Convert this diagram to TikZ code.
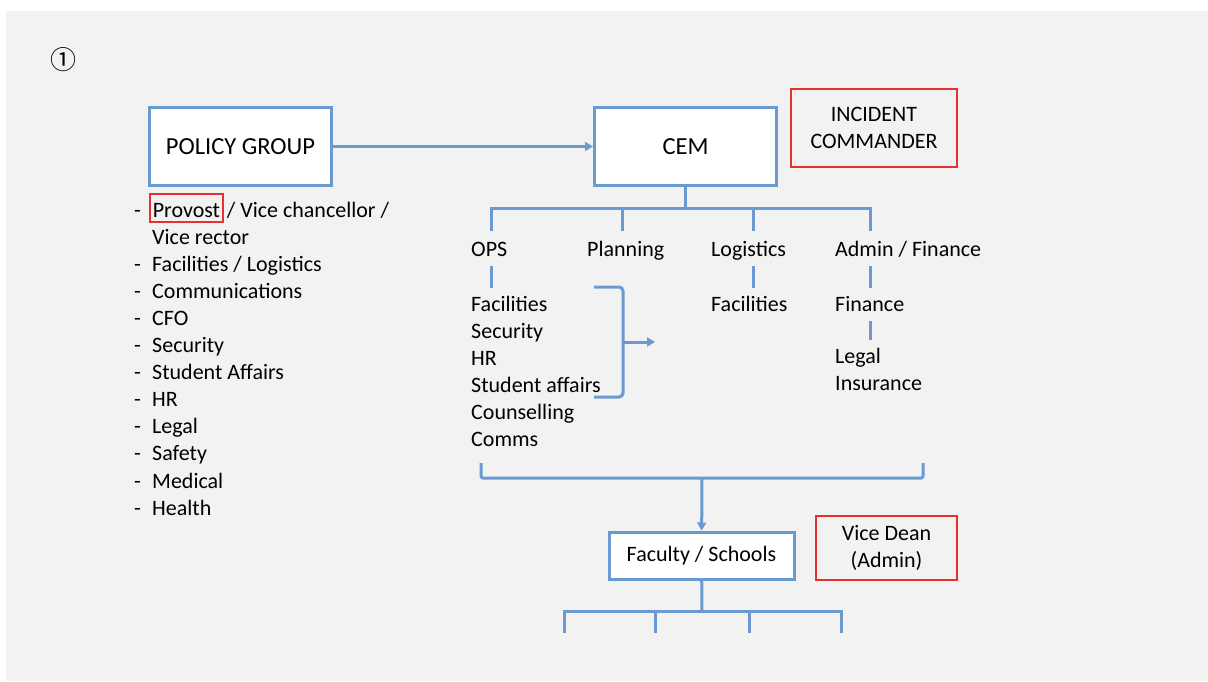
\documentclass[tikz,border=0pt]{standalone}
\usepackage{fontspec}
\setmainfont{Carlito}
\newfontfamily\symbolfont{Noto Sans CJK JP}
\usetikzlibrary{arrows.meta,positioning}
\definecolor{chartblue}{HTML}{6A9AD0}
\definecolor{flagred}{HTML}{E8312F}
\definecolor{slidegray}{HTML}{F2F2F2}

\begin{document}
\begin{tikzpicture}[x = 1pt, y = -1pt,
    every node/.style = {font = \fontsize{22}{27}\selectfont, inner sep = 0pt},
    label text/.style = {text height = 16pt, text depth = 5pt, anchor = base west},
    unit box/.style = {draw = chartblue, line width = 3pt, fill = white, align = center},
    flag box/.style = {draw = flagred, line width = 2pt, align = center},
    link/.style = {draw = chartblue, line width = 3pt},
    stem/.style = {link, shorten <= 5pt, shorten >= 7pt},
    pointer/.style = {link, -{Triangle[length = 8pt, width = 9pt]}}]
    \useasboundingbox (0, 0) rectangle (1208, 681);
    \fill[slidegray] (6, 11) rectangle (1208, 681);
    \node[font = \fontsize{26}{26}\selectfont] (slide number) at (63, 60) {\symbolfont ①};
    % top row
    \node[unit box, minimum width = 182, minimum height = 78, font = \fontsize{24.5}{29}\selectfont] (policy group) at (240.5, 146.5) {POLICY GROUP};
    \node[unit box, minimum width = 182, minimum height = 78, font = \fontsize{24.5}{29}\selectfont] (cem) at (685.5, 146.5) {CEM};
    \node[flag box, minimum width = 166, minimum height = 78] (incident commander) at (874, 128) {INCIDENT \\ COMMANDER};
    \draw[pointer] (policy group) -- (cem);
    % policy group members
    \node[flag box, line width = 1.6pt, inner xsep = 2.8pt, text height = 23pt, text depth = 5pt, anchor = base west] (provost) at (149.2, 217) {Provost};
    \node[label text, right = 3pt of provost.base east, anchor = base west] (vice chancellor) {/ Vice chancellor /};
    \node[label text] (vice rector) at (152, 244.1) {Vice rector};
    \foreach \member [count = \i from 2] in {{Facilities / Logistics}, Communications, CFO, Security, Student Affairs, HR, Legal, Safety, Medical, Health}
        \node[label text] (member \i) at (152, 217 + 27.1 * \i) {\member};
    \foreach \i in {0, 2, 3, ..., 11}
        \node[label text] (dash \i) at (134, 217 + 27.1 * \i) {-};
    % CEM sections
    \coordinate (cem split) at (685.5, 208);
    \coordinate (ops drop) at (491, 231);
    \coordinate (planning drop) at (622, 231);
    \coordinate (logistics drop) at (753, 231);
    \coordinate (admin drop) at (870, 231);
    \draw[link] (cem) -- (cem split);
    \draw[link] (ops drop) |- (cem split) -| (admin drop);
    \draw[link] (planning drop) -- (planning drop |- cem split);
    \draw[link] (logistics drop) -- (logistics drop |- cem split);
    \node[label text] (ops) at (471, 256) {OPS};
    \node[label text] (planning) at (587, 256) {Planning};
    \node[label text] (logistics) at (711, 256) {Logistics};
    \node[label text] (admin finance) at (835, 256) {Admin / Finance};
    % OPS units
    \foreach \unit [count = \i from 0] in {Facilities, Security, HR, Student affairs, Counselling, Comms}
        \node[label text] (ops item \i) at (471, 311 + 27 * \i) {\unit};
    \draw[stem] (ops.south -| ops drop) -- (ops item 0.north -| ops drop);
    \coordinate (bracket top) at (594, 287);
    \coordinate (bracket mid) at (623, 342);
    \coordinate (bracket bottom) at (594, 397);
    \coordinate (bracket tip) at (655, 342);
    \draw[link, rounded corners = 4pt] (bracket top) -| (bracket mid) |- (bracket bottom);
    \draw[pointer] (bracket mid) -- (bracket tip);
    % logistics and admin units
    \node[label text] (logistics facilities) at (711, 311) {Facilities};
    \draw[stem] (logistics.south -| logistics drop) -- (logistics facilities.north -| logistics drop);
    \node[label text] (finance) at (835, 311) {Finance};
    \node[label text] (legal) at (835, 363) {Legal};
    \node[label text] (insurance) at (835, 390) {Insurance};
    \draw[stem] (admin finance.south -| admin drop) -- (finance.north -| admin drop);
    \draw[stem] (finance.south -| admin drop) -- (legal.north -| admin drop);
    % faculty level
    \coordinate (gather left) at (481, 463);
    \coordinate (gather mid) at (702, 478);
    \coordinate (gather right) at (923, 463);
    \draw[link, rounded corners = 2pt] (gather left) |- (gather mid) -| (gather right);
    \node[unit box, minimum width = 185, minimum height = 47] (faculty schools) at (701.5, 555.5) {Faculty / Schools};
    \node[flag box, minimum width = 141, minimum height = 64] (vice dean) at (886.5, 548) {Vice Dean \\ (Admin)};
    \draw[pointer] (gather mid) -- (faculty schools);
    \coordinate (faculty split) at (702, 611);
    \coordinate (school a) at (564, 633);
    \coordinate (school b) at (655, 633);
    \coordinate (school c) at (749, 633);
    \coordinate (school d) at (841, 633);
    \draw[link] (faculty schools) -- (faculty split);
    \draw[link] (school a) |- (faculty split) -| (school d);
    \draw[link] (school b) -- (school b |- faculty split);
    \draw[link] (school c) -- (school c |- faculty split);
\end{tikzpicture}
\end{document}
